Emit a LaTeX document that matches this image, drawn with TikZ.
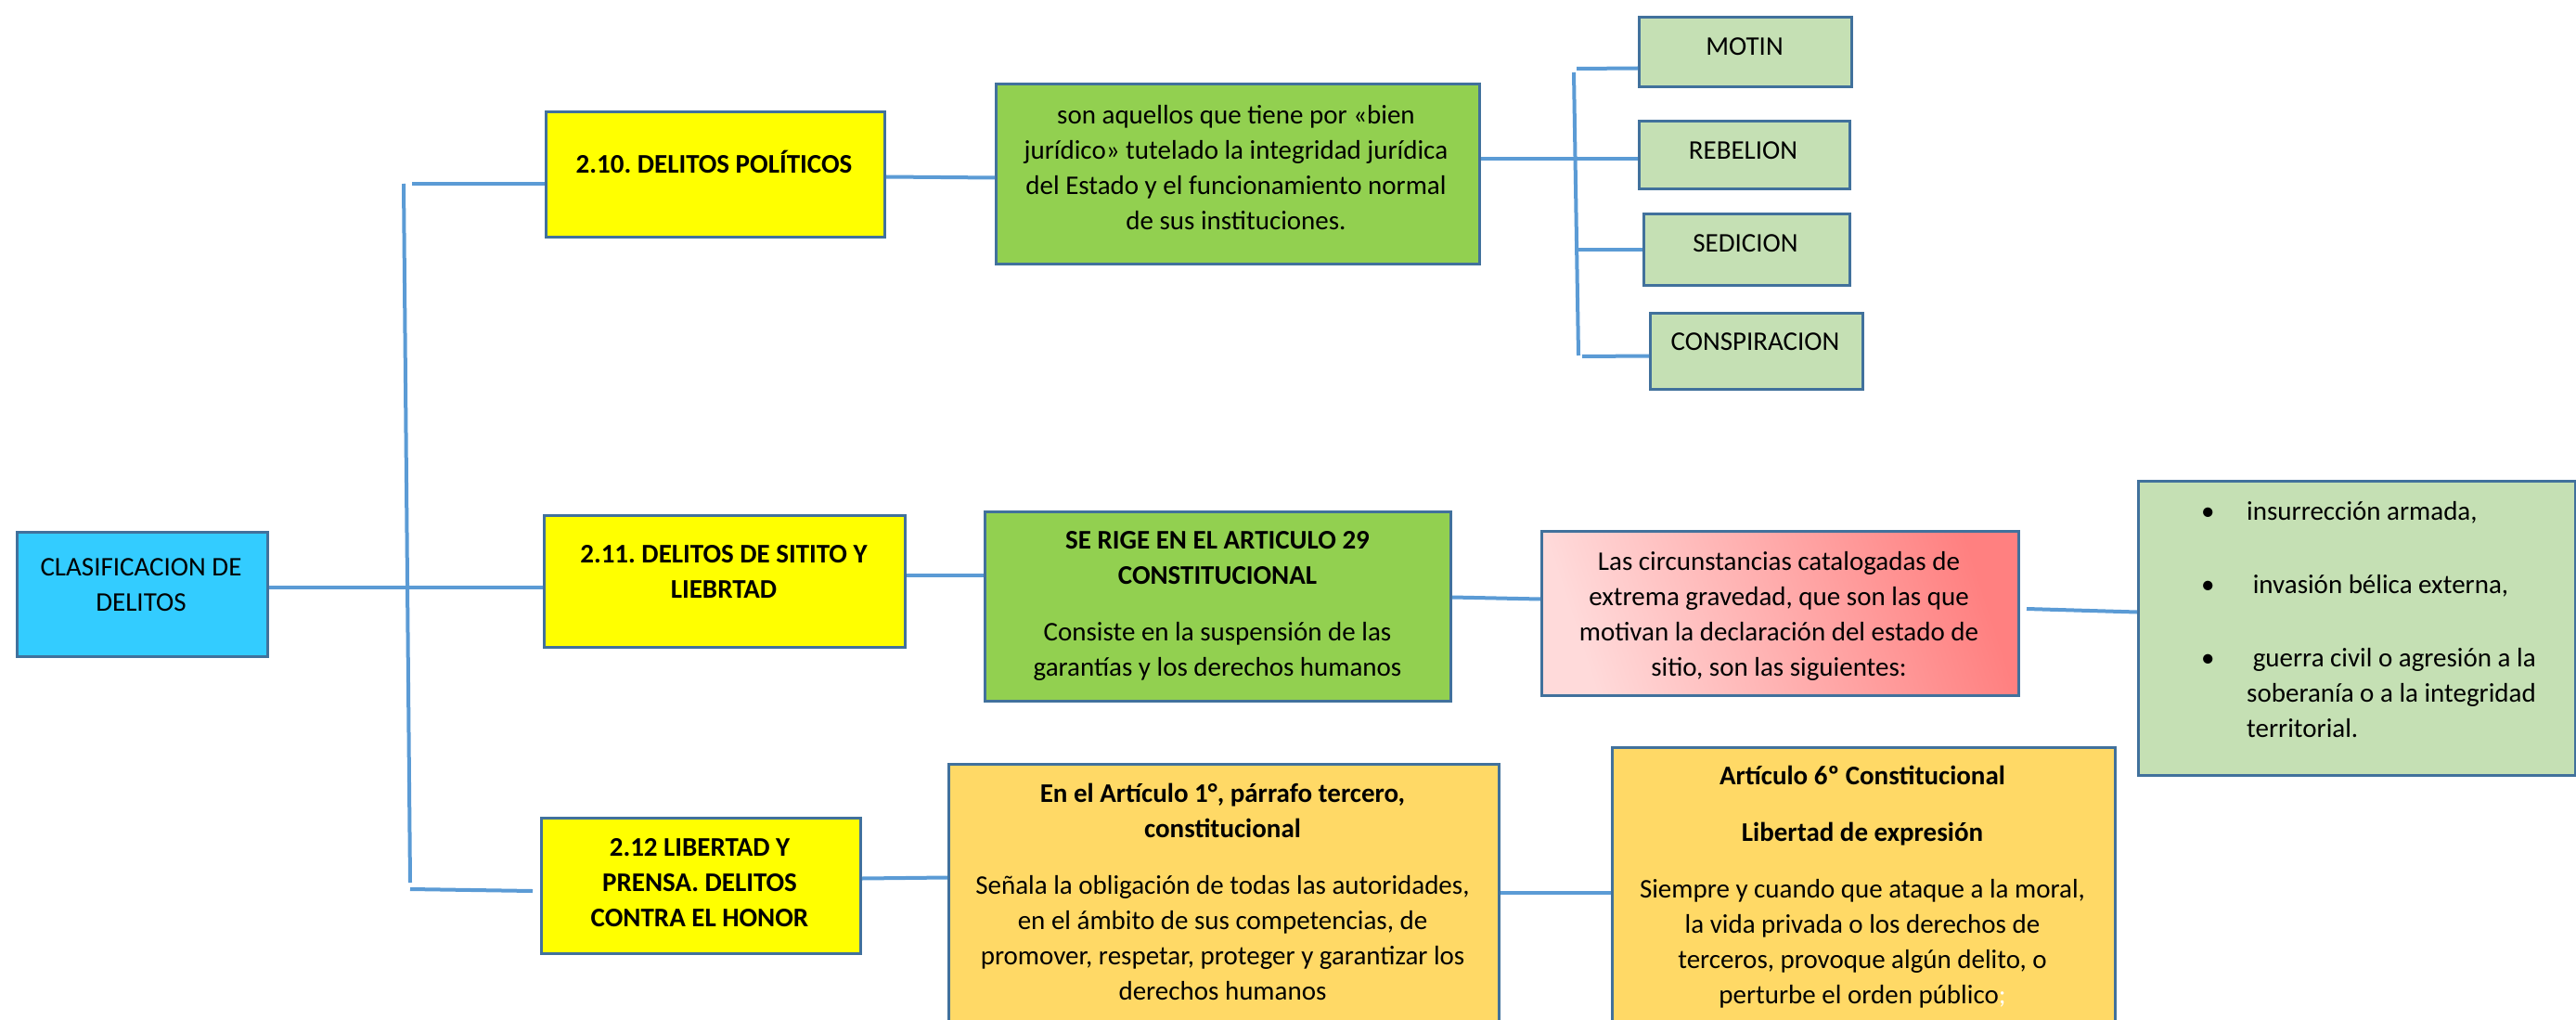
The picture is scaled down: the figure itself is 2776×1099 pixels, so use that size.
\documentclass[tikz,border=0pt]{standalone}
\usepackage{fontspec}
\setmainfont{Carlito}
\frenchspacing
\definecolor{bordc}{HTML}{41719C}
\definecolor{connc}{HTML}{5B9BD5}
\definecolor{cyanf}{HTML}{33CCFF}
\definecolor{yellf}{HTML}{FFFF00}
\definecolor{grnf}{HTML}{92D050}
\definecolor{lgrnf}{HTML}{C5E0B4}
\definecolor{orngf}{HTML}{FFD966}
\definecolor{pinkl}{HTML}{FFDADA}
\definecolor{pinkd}{HTML}{FF8080}
\begin{document}
\begin{tikzpicture}[x=1pt,y=-1pt,
  box/.style={draw=bordc, line width=3pt, inner sep=0pt, anchor=north west},
  txt/.style={font=\fontsize{29}{38}\selectfont, align=center, anchor=north, inner sep=0pt, yshift=-3pt},
  conn/.style={draw=connc, line width=4pt}]
\useasboundingbox (0,0) rectangle (2776,1099);
% boxes
\node[box, fill=cyanf, minimum width=270pt, minimum height=134pt] (clas) at (17,572) {};
\node[box, fill=yellf, minimum width=365pt, minimum height=135pt] (b210) at (587,119) {};
\node[box, fill=yellf, minimum width=389pt, minimum height=142pt] (b211) at (585,554) {};
\node[box, fill=yellf, minimum width=344pt, minimum height=146pt] (b212) at (582,880) {};
\node[box, fill=grnf, minimum width=521pt, minimum height=194pt] (g1) at (1072,89) {};
\node[box, fill=lgrnf, minimum width=229pt, minimum height=75pt] (motin) at (1765,17) {};
\node[box, fill=lgrnf, minimum width=227pt, minimum height=73pt] (rebel) at (1765,129) {};
\node[box, fill=lgrnf, minimum width=222pt, minimum height=77pt] (sedic) at (1770,229) {};
\node[box, fill=lgrnf, minimum width=229pt, minimum height=82pt] (consp) at (1777,336) {};
\node[box, fill=grnf, minimum width=502pt, minimum height=204pt] (g2) at (1060,550) {};
\node[box, top color=pinkd, bottom color=pinkl, shading angle=-72, minimum width=514pt, minimum height=177pt] (pink) at (1660,571) {};
\node[box, fill=lgrnf, minimum width=471pt, minimum height=317pt] (list) at (2303,517) {};
\node[box, fill=orngf, minimum width=593pt, minimum height=283pt] (o1) at (1021,822) {};
\node[box, fill=orngf, minimum width=542pt, minimum height=301pt] (o2) at (1736,804) {};
% texts
\node[txt] (clas-t) at (152,591) {\strut CLASIFICACION DE\\DELITOS};
\node[txt, font=\fontsize{29}{38}\selectfont\bfseries] (b210-t) at (769.5,157) {\strut 2.10. DELITOS POLÍTICOS};
\node[txt, font=\fontsize{29}{38}\selectfont\bfseries] (b211-t) at (780,577) {\strut 2.11. DELITOS DE SITITO Y\\LIEBRTAD};
\node[txt, font=\fontsize{29}{38}\selectfont\bfseries] (b212-t) at (754,893) {\strut 2.12 LIBERTAD Y\\PRENSA. DELITOS\\CONTRA EL HONOR};
\node[txt] (g1-t) at (1332,104) {\strut son aquellos que tiene por «bien\\jurídico» tutelado la integridad jurídica\\del Estado y el funcionamiento normal\\de sus instituciones.};
\node[txt] (motin-t) at (1880,30) {\strut MOTIN};
\node[txt] (rebel-t) at (1878.5,142) {\strut REBELION};
\node[txt] (sedic-t) at (1881,242) {\strut SEDICION};
\node[txt] (consp-t) at (1891.5,348) {\strut CONSPIRACION};
\node[txt] (g2-t) at (1312,562) {\strut\textbf{SE RIGE EN EL ARTICULO 29}\\\textbf{CONSTITUCIONAL}\\[23pt]Consiste en la suspensión de las\\garantías y los derechos humanos};
\node[txt] (pink-t) at (1917,585) {\strut Las circunstancias catalogadas de\\extrema gravedad, que son las que\\motivan la declaración del estado de\\sitio, son las siguientes:};
\node[txt] (o1-t) at (1317.5,835) {\strut\textbf{En el Artículo 1°, párrafo tercero,}\\\textbf{constitucional}\\[23pt]Señala la obligación de todas las autoridades,\\en el ámbito de sus competencias, de\\promover, respetar, proteger y garantizar los\\derechos humanos};
\node[txt] (o2-t) at (2007,816) {\strut\textbf{Artículo 6º Constitucional}\\[23pt]\textbf{Libertad de expresión}\\[23pt]Siempre y cuando que ataque a la moral,\\la vida privada o los derechos de\\terceros, provoque algún delito, o\\perturbe el orden público\textcolor{white}{;}};
\node[txt, align=left, anchor=north west] (list-t) at (2372,531) {\strut\makebox[49pt][l]{•}insurrección armada,\\[41pt]\makebox[49pt][l]{•}\ invasión bélica externa,\\[41pt]\makebox[49pt][l]{•}\ guerra civil o agresión a la\\\hspace*{49pt}soberanía o a la integridad\\\hspace*{49pt}territorial.};
% connector coordinates
\coordinate (t1) at (435,198);
\coordinate (t2) at (442,951);
\coordinate (t1b) at (444,198);
\coordinate (t3) at (442,958);
\coordinate (t4) at (574,960);
\coordinate (u1) at (1696,78);
\coordinate (u2) at (1701,383);
\coordinate (u1b) at (1699,74);
\coordinate (u3) at (1698,269);
\coordinate (u4) at (1705,384);
\coordinate (p1) at (2184,656);
% connectors
\draw[conn] ([yshift=8pt]clas.east) -- ([yshift=-6pt]b211.west);
\draw[conn] (t1) -- (t2);
\draw[conn] (t1b) -- (b210.west |- t1b);
\draw[conn] (t3) -- (t4);
\draw[conn] ([yshift=-2.5pt]b210.east) -- ([yshift=-4pt]g1.west);
\draw[conn] ([yshift=7pt]b211.east) -- ([yshift=34pt]g2.west);
\draw[conn] ([yshift=8pt]b212.east) -- ([yshift=19.5pt]o1.west);
\draw[conn] ([yshift=16pt]g1.east) -- ([yshift=-4.5pt]rebel.west);
\draw[conn] (u1) -- (u2);
\draw[conn] (u1b) -- ([yshift=-17.5pt]motin.west);
\draw[conn] (u3) -- (sedic.west |- u3);
\draw[conn] (u4) -- ([yshift=-5pt]consp.west);
\draw[conn] ([yshift=10pt]g2.east) -- ([yshift=15.5pt]pink.west);
\draw[conn] (p1) -- ([yshift=17.5pt]list.west);
\draw[conn] ([yshift=3.5pt]o1.east) -- ([yshift=-5.5pt]o2.west);
\end{tikzpicture}
\end{document}
